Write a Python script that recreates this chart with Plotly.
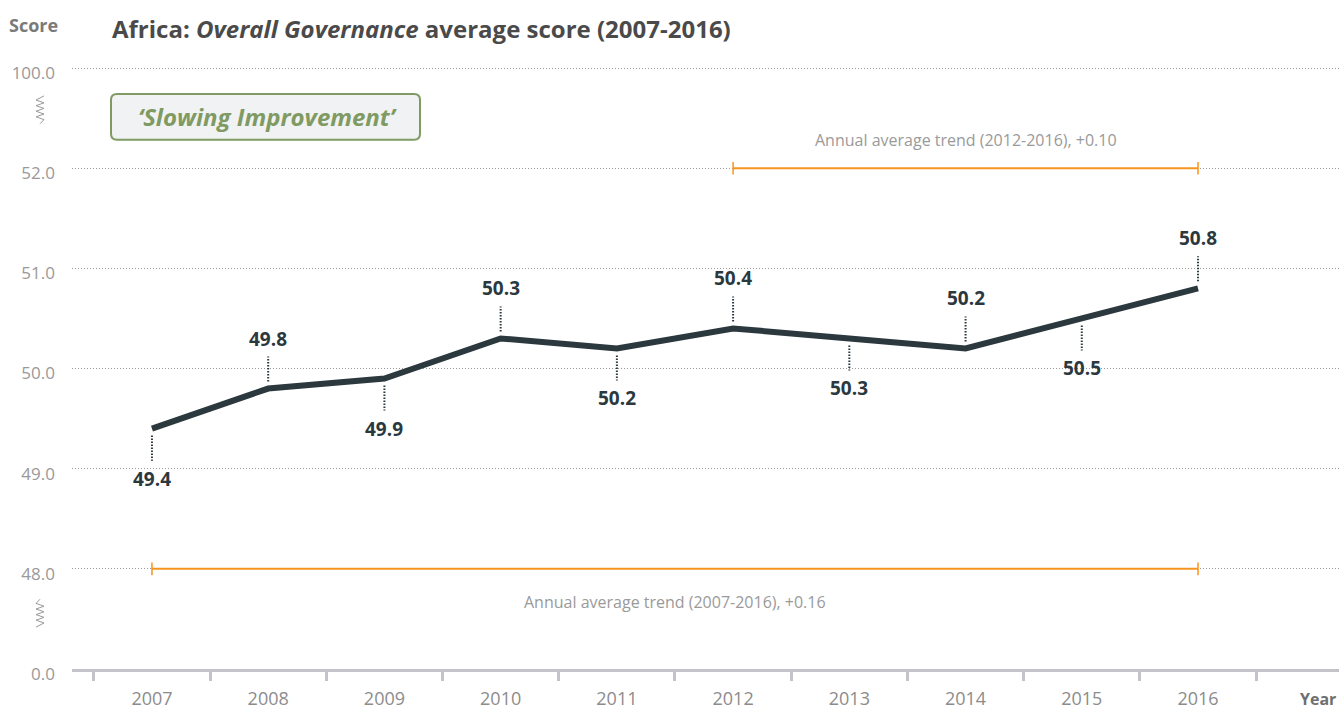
import plotly.graph_objects as go

# ---------------- data ----------------
years = [2007, 2008, 2009, 2010, 2011, 2012, 2013, 2014, 2015, 2016]
scores = [49.4, 49.8, 49.9, 50.3, 50.2, 50.4, 50.3, 50.2, 50.5, 50.8]

# broken axis: display labels for axis positions
ytick_pos = [47, 48, 49, 50, 51, 52, 53]
ytick_text = ["0.0", "48.0", "49.0", "50.0", "51.0", "52.0", "100.0"]

trend_long_years = [2007, 2016]
trend_long_level = 48
trend_long_text = "Annual average trend (2007-2016), +0.16"
trend_short_years = [2012, 2016]
trend_short_level = 52
trend_short_text = "Annual average trend (2012-2016), +0.10"

title_html = "Africa: <i>Overall Governance</i> average score (2007-2016)"
badge_text = "<i>\u2018Slowing Improvement\u2019</i>"

# ---------------- layout constants ----------------
W, H = 1339, 710
ML, MR, MT, MB = 72, 0, 58, 39
PW, PH = W - ML - MR, H - MT - MB
FONT = "Open Sans"
DARK = "#2b383e"
GREY = "#8c8c8c"
ORANGE = "#f7941d"
GREEN = "#7f9a62"


def px(x):  # pixel x -> paper
    return (x - ML) / PW


def py(y):  # pixel y -> paper
    return (H - MB - y) / PH


fig = go.Figure()

# main line
fig.add_trace(go.Scatter(x=years, y=scores, mode="lines",
                         line=dict(color=DARK, width=6), hoverinfo="x+y"))

# leader lines (alternating below / above)
lx, ly = [], []
for i, (yr, v) in enumerate(zip(years, scores)):
    s = -1 if i % 2 == 0 else 1
    lx += [yr, yr, None]
    ly += [v + s * 0.07, v + s * 0.32, None]
fig.add_trace(go.Scatter(x=lx, y=ly, mode="lines",
                         line=dict(color=DARK, width=2, dash="1.5px,1.5px"),
                         hoverinfo="skip"))

# trend bars
for yrs, lvl in [(trend_short_years, trend_short_level), (trend_long_years, trend_long_level)]:
    fig.add_trace(go.Scatter(x=yrs, y=[lvl, lvl], mode="lines+markers",
                             line=dict(color=ORANGE, width=2),
                             marker=dict(symbol="line-ns", size=9,
                                         line=dict(color=ORANGE, width=1.5)),
                             hoverinfo="skip"))

annotations = []
for i, (yr, v) in enumerate(zip(years, scores)):
    s = -1 if i % 2 == 0 else 1
    annotations.append(dict(x=yr, y=v, xref="x", yref="y", text=f"{v:.1f}",
                            showarrow=False, yshift=s * 50,
                            font=dict(family=FONT, size=19, color=DARK, weight="bold")))

annotations.append(dict(x=sum(trend_short_years) / 2, y=trend_short_level, xref="x", yref="y",
                        text=trend_short_text, showarrow=False, yshift=28,
                        font=dict(family=FONT, size=16, color="#9a9a9a")))
annotations.append(dict(x=sum(trend_long_years) / 2, y=trend_long_level, xref="x", yref="y",
                        text=trend_long_text, showarrow=False, yshift=-33,
                        font=dict(family=FONT, size=16, color="#9a9a9a")))

annotations.append(dict(x=px(110), y=py(28), xref="paper", yref="paper", xanchor="left",
                        yanchor="middle", text=title_html, showarrow=False,
                        font=dict(family=FONT, size=24, color="#4a4a4a", weight="bold")))
annotations.append(dict(x=px(7), y=py(25), xref="paper", yref="paper", xanchor="left",
                        yanchor="middle", text="Score", showarrow=False,
                        font=dict(family=FONT, size=18, color="#7a7a7a", weight="bold")))
annotations.append(dict(x=px(1337), y=py(701), xref="paper", yref="paper", xanchor="right",
                        yanchor="middle", text="Year", showarrow=False, borderpad=0,
                        font=dict(family=FONT, size=16, color="#6f6f6f", weight="bold")))
annotations.append(dict(x=px(267), y=py(117), xref="paper", yref="paper",
                        xanchor="center", yanchor="middle", text=badge_text, showarrow=False,
                        font=dict(family=FONT, size=24, color=GREEN, weight="bold")))

shapes = []
# rounded badge box
x0, x1, y0, y1 = px(111), px(420), py(140), py(94)
rx, ry = 6 / PW, 6 / PH
path = (f"M {x0+rx},{y0} L {x1-rx},{y0} Q {x1},{y0} {x1},{y0+ry} L {x1},{y1-ry} "
        f"Q {x1},{y1} {x1-rx},{y1} L {x0+rx},{y1} Q {x0},{y1} {x0},{y1-ry} "
        f"L {x0},{y0+ry} Q {x0},{y0} {x0+rx},{y0} Z")
shapes.append(dict(type="path", xref="paper", yref="paper", path=path,
                   fillcolor="#f1f2f3", line=dict(color=GREEN, width=2), layer="below"))


def zigzag(ytop, ybot, tail_top):
    n = 8
    pts = []
    step = (ybot - ytop) / (n + 2)
    if tail_top:
        pts.append((44, ytop))
    else:
        pts.append((40, ytop))
    for k in range(n):
        xx = 36 if k % 2 == 0 else 44
        pts.append((xx, ytop + step * (k + 1.5)))
    if tail_top:
        pts.append((40, ybot))
    else:
        pts.append((36, ybot))
    d = "M " + " L ".join(f"{px(a)},{py(b)}" for a, b in pts)
    return dict(type="path", xref="paper", yref="paper", path=d,
                line=dict(color="#9a9a9a", width=1))


shapes.append(zigzag(96, 124, True))
shapes.append(zigzag(601, 629, False))

fig.update_layout(
    width=W, height=H,
    margin=dict(l=ML, r=MR, t=MT, b=MB, pad=0),
    paper_bgcolor="white", plot_bgcolor="white",
    showlegend=False,
    font=dict(family=FONT, color=GREY),
    annotations=annotations,
    shapes=shapes,
    xaxis=dict(range=[2006.312, 2017.213], tickvals=years, ticktext=[str(y) for y in years],
               ticks="", showgrid=False, zeroline=False,
               showline=True, linecolor="#c3c3c9", linewidth=3,
               tickfont=dict(family=FONT, size=18, color=GREY),
               ticklabelstandoff=11,
               minor=dict(tick0=2006.5, dtick=1, ticks="outside", ticklen=9,
                          tickwidth=2.5, tickcolor="#c3c3c9", showgrid=False),
               fixedrange=True),
    yaxis=dict(range=[47, 53.1], tickvals=ytick_pos, ticktext=ytick_text,
               showgrid=True, gridcolor="#9a9a9a", gridwidth=1, griddash="1px,2px",
               zeroline=False, showline=False, ticks="",
               tickfont=dict(family=FONT, size=17, color="#999999"),
               ticklabelstandoff=16, ticklabelshift=5,
               fixedrange=True),
)

fig.write_html("out.html", config={"displayModeBar": False},
               post_script="document.body.style.margin='0';")
